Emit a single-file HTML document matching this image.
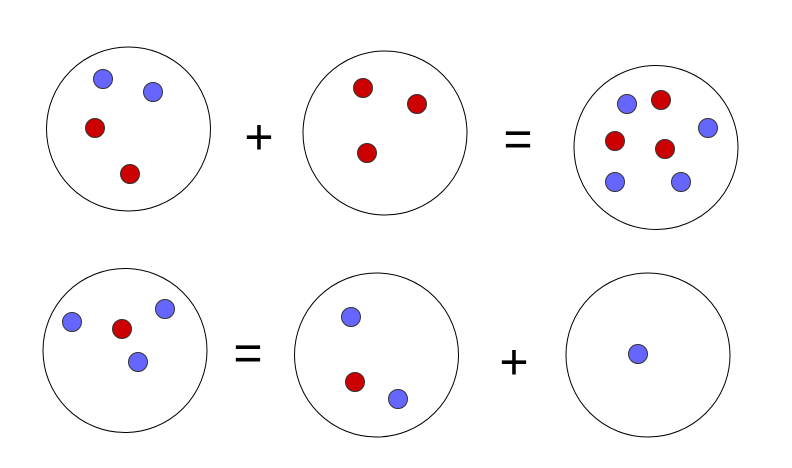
<!DOCTYPE html>
<html><head><meta charset="utf-8"><style>
html,body{margin:0;padding:0;background:#fff;width:792px;height:468px;overflow:hidden}
svg{display:block}
text{font-family:"Liberation Sans",sans-serif;font-size:50px;fill:#000}
</style></head><body>
<svg width="792" height="468" viewBox="0 0 792 468">
<g fill="none" stroke="#000" stroke-width="1">
<circle cx="128.5" cy="129" r="82"/>
<circle cx="385" cy="133" r="82"/>
<circle cx="656" cy="147.5" r="82"/>
<circle cx="125" cy="350.5" r="82"/>
<circle cx="376.5" cy="355" r="82"/>
<circle cx="648" cy="355" r="82"/>
</g>
<g stroke="#333" stroke-width="1">
<g fill="#6666ff">
<circle cx="103" cy="79" r="9.5"/><circle cx="153" cy="92" r="9.5"/>
<circle cx="627" cy="104" r="9.5"/><circle cx="708" cy="128" r="9.5"/>
<circle cx="615" cy="182" r="9.5"/><circle cx="681" cy="182" r="9.5"/>
<circle cx="72" cy="322" r="9.5"/><circle cx="165" cy="309" r="9.5"/><circle cx="138" cy="362" r="9.5"/>
<circle cx="351" cy="317" r="9.5"/><circle cx="398" cy="399" r="9.5"/>
<circle cx="638" cy="354" r="9.5"/>
</g>
<g fill="#cc0000">
<circle cx="95" cy="128" r="9.5"/><circle cx="130" cy="174" r="9.5"/>
<circle cx="363" cy="88" r="9.5"/><circle cx="417" cy="104" r="9.5"/><circle cx="367" cy="153" r="9.5"/>
<circle cx="661" cy="100" r="9.5"/><circle cx="615" cy="141" r="9.5"/><circle cx="665" cy="149" r="9.5"/>
<circle cx="122" cy="329" r="9.5"/>
<circle cx="355" cy="382" r="9.5"/>
</g>
</g>
<text x="259" y="154" text-anchor="middle">+</text>
<text x="518" y="156" text-anchor="middle">=</text>
<text x="248" y="370" text-anchor="middle">=</text>
<text x="514" y="379" text-anchor="middle">+</text>
</svg>
</body></html>
